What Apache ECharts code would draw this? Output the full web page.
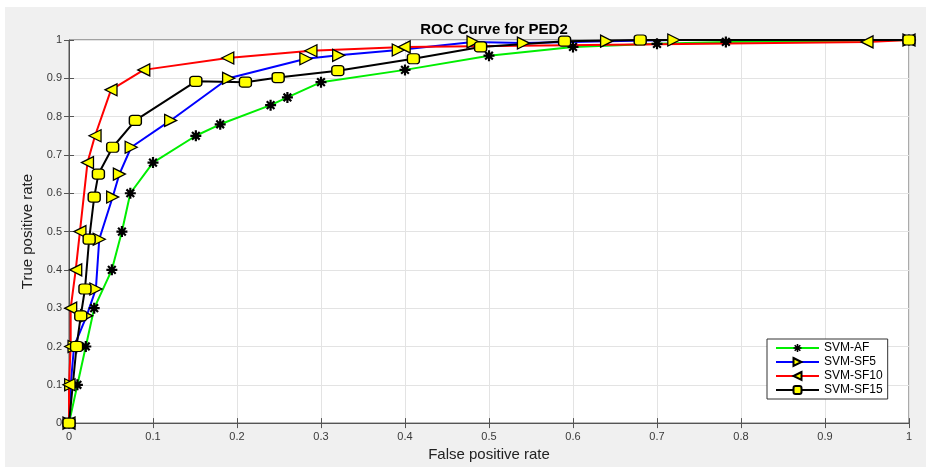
<!DOCTYPE html>
<html>
<head>
<meta charset="utf-8">
<script src="https://cdn.jsdelivr.net/npm/echarts@6/dist/echarts.min.js"></script>
<style>
  body { margin: 0; background: #fff; }
  #figure-bg { position: absolute; left: 5px; top: 7px; width: 921px; height: 460px; background: #f0f0f0; }
  #chart-container { position: absolute; left: 0; top: 0; width: 926px; height: 467px; }
</style>
</head>
<body>
<div id="figure-bg"></div>
<div id="chart-container"></div>
<script>
// values
const tickLabels = ['0', '0.1', '0.2', '0.3', '0.4', '0.5', '0.6', '0.7', '0.8', '0.9', '1'];

const afFpr = [0, 0.01, 0.02, 0.03, 0.051, 0.063, 0.073, 0.1, 0.151, 0.18, 0.24, 0.26, 0.3, 0.4, 0.5, 0.6, 0.7, 0.782, 1];
const afTpr = [0, 0.1, 0.2, 0.3, 0.4, 0.5, 0.6, 0.68, 0.75, 0.78, 0.83, 0.85, 0.89, 0.922, 0.959, 0.982, 0.99, 0.995, 1];

const sf5Fpr = [0, 0.002, 0.006, 0.021, 0.032, 0.036, 0.052, 0.06, 0.074, 0.121, 0.19, 0.282, 0.321, 0.392, 0.481, 0.541, 0.64, 0.72, 1];
const sf5Tpr = [0, 0.1, 0.2, 0.28, 0.35, 0.48, 0.59, 0.65, 0.72, 0.79, 0.9, 0.951, 0.96, 0.974, 0.995, 0.992, 0.997, 1, 1];

const sf10Fpr = [0, 0, 0.002, 0.002, 0.008, 0.013, 0.022, 0.031, 0.05, 0.089, 0.189, 0.288, 0.399, 0.95, 1];
const sf10Tpr = [0, 0.1, 0.2, 0.3, 0.4, 0.5, 0.68, 0.75, 0.87, 0.922, 0.953, 0.972, 0.982, 0.995, 1];

const sf15Fpr = [0, 0.009, 0.014, 0.019, 0.024, 0.03, 0.035, 0.052, 0.079, 0.151, 0.21, 0.249, 0.32, 0.41, 0.49, 0.59, 0.68, 1];
const sf15Tpr = [0, 0.2, 0.28, 0.35, 0.48, 0.59, 0.65, 0.72, 0.79, 0.892, 0.89, 0.902, 0.92, 0.951, 0.982, 0.997, 1, 1];

const zip = (xs, ys) => xs.map((x, i) => [x, ys[i]]);

const asterisk = 'path://M-1,-5L1,-5L1,5L-1,5Z M-5,-1L5,-1L5,1L-5,1Z M-2.8,-4.2L4.2,2.8L2.8,4.2L-4.2,-2.8Z M2.8,-4.2L4.2,-2.8L-2.8,4.2L-4.2,2.8Z';
const triRight = 'path://M0,0L10,5L0,10Z';
const triLeft = 'path://M10,0L0,5L10,10Z';

const font = '"Liberation Sans", Arial, Helvetica, sans-serif';
const labelFmt = v => tickLabels[Math.round(v * 10)];

let chart = echarts.init(document.getElementById('chart-container'));

const marker = {color: '#ffff00', borderColor: '#000', borderWidth: 1.3};

let options = {
  animation: false,
  backgroundColor: 'transparent',
  textStyle: {fontFamily: font},
  title: {
    text: 'ROC Curve for PED2',
    left: 489, top: 17, textAlign: 'center',
    textStyle: {fontFamily: font, fontSize: 15, fontWeight: 'bold', color: '#000'}
  },
  grid: {
    left: 69, right: 17, top: 40, bottom: 38,
    show: true, backgroundColor: '#fff', borderColor: '#555', borderWidth: 1
  },
  legend: {
    orient: 'vertical',
    left: 767, top: 339,
    padding: [3, 5, 3, 8],
    itemWidth: 43, itemHeight: 10, itemGap: 2,
    backgroundColor: '#fff', borderColor: '#333', borderWidth: 1,
    textStyle: {fontFamily: font, fontSize: 12, color: '#000'},
    data: ['SVM-AF', 'SVM-SF5', 'SVM-SF10', 'SVM-SF15']
  },
  xAxis: [{
    type: 'value', min: 0, max: 1, interval: 0.1,
    name: 'False positive rate', nameLocation: 'middle', nameGap: 19,
    nameTextStyle: {fontFamily: font, fontSize: 15, color: '#222'},
    axisLine: {lineStyle: {color: '#555'}},
    axisTick: {inside: true, length: 5, lineStyle: {color: '#555'}},
    axisLabel: {formatter: labelFmt, color: '#3a3a3a', fontSize: 11, margin: 8},
    splitLine: {lineStyle: {color: '#e3e3e3'}}
  }, {
    type: 'value', min: 0, max: 1, interval: 0.1, position: 'top',
    axisLine: {show: false},
    axisTick: {inside: true, length: 5, lineStyle: {color: '#555'}},
    axisLabel: {show: false}, splitLine: {show: false}
  }],
  yAxis: [{
    type: 'value', min: 0, max: 1, interval: 0.1,
    name: 'True positive rate', nameLocation: 'middle', nameGap: 33,
    nameTextStyle: {fontFamily: font, fontSize: 15, color: '#222'},
    axisLine: {lineStyle: {color: '#555'}},
    axisTick: {inside: true, length: 5, lineStyle: {color: '#555'}},
    axisLabel: {formatter: labelFmt, color: '#3a3a3a', fontSize: 11, margin: 7},
    splitLine: {lineStyle: {color: '#e3e3e3'}}
  }, {
    type: 'value', min: 0, max: 1, interval: 0.1, position: 'right',
    axisLine: {show: false},
    axisTick: {inside: true, length: 5, lineStyle: {color: '#555'}},
    axisLabel: {show: false}, splitLine: {show: false}
  }],
  series: [
    {
      name: 'SVM-AF', type: 'line', data: zip(afFpr, afTpr),
      lineStyle: {width: 2, color: '#00ee00'},
      symbol: asterisk, symbolSize: 11,
      itemStyle: {color: '#000', borderWidth: 0}
    },
    {
      name: 'SVM-SF5', type: 'line', data: zip(sf5Fpr, sf5Tpr),
      lineStyle: {width: 2, color: '#0000ff'},
      symbol: triRight, symbolSize: 12,
      itemStyle: marker
    },
    {
      name: 'SVM-SF10', type: 'line', data: zip(sf10Fpr, sf10Tpr),
      lineStyle: {width: 2, color: '#ff0000'},
      symbol: triLeft, symbolSize: 12,
      itemStyle: marker
    },
    {
      name: 'SVM-SF15', type: 'line', data: zip(sf15Fpr, sf15Tpr),
      lineStyle: {width: 2, color: '#000'},
      symbol: 'roundRect', symbolSize: [12, 10],
      itemStyle: marker
    }
  ]
};

chart.setOption(options);
</script>
</body>
</html>
